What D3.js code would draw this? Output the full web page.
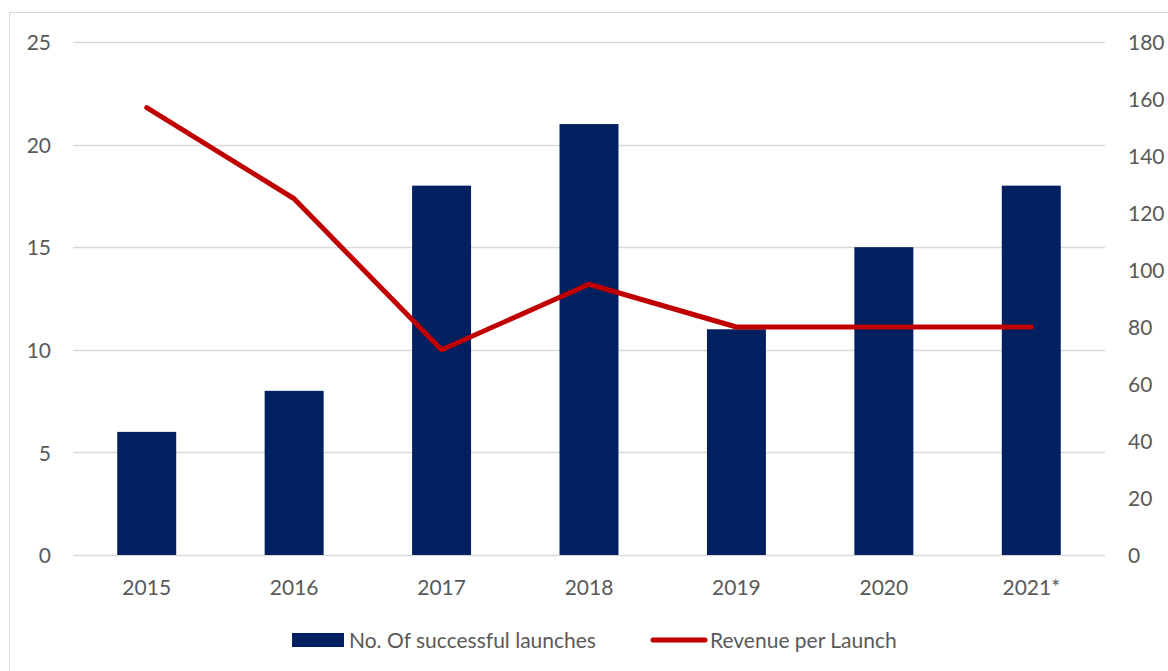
<!DOCTYPE html>
<html>
<head>
<meta charset="utf-8">
<script src="https://cdn.jsdelivr.net/npm/d3@7"></script>
<style>
  html, body { margin: 0; padding: 0; background: #fff; }
  svg { display: block; }
  text { font-family: Lato, "Open Sans", sans-serif; fill: #595959; }
</style>
</head>
<body>
<svg id="chart" width="1168" height="671"></svg>
<script>
// Launch counts (left axis) and revenue per launch (right axis)
const years = ["2015", "2016", "2017", "2018", "2019", "2020", "2021*"];
const launches = [6, 8, 18, 21, 11, 15, 18];
const revenuePerLaunch = [157, 125, 72, 95, 80, 80, 80];
const leftTicks = [0, 5, 10, 15, 20, 25];
const rightTicks = [0, 20, 40, 60, 80, 100, 120, 140, 160, 180];
const seriesNames = ["No. Of successful launches", "Revenue per Launch"];

const svg = d3.select("#chart");
const plot = { left: 73, right: 1105, top: 42, bottom: 555 };
const fontSize = "21px";

// outer frame of the chart area
svg.append("rect")
  .attr("x", 9.5).attr("y", 12.5)
  .attr("width", 1200).attr("height", 700)
  .attr("fill", "none").attr("stroke", "#d9d9d9").attr("stroke-width", 1);

const x = d3.scaleBand()
  .domain(years)
  .range([plot.left, plot.right])
  .paddingInner(0.6)
  .paddingOuter(0.3);

const yLeft = d3.scaleLinear().domain([0, 25]).range([plot.bottom, plot.top]);
const yRight = d3.scaleLinear().domain([0, 180]).range([plot.bottom, plot.top]);

// horizontal gridlines
svg.append("g")
  .selectAll("line")
  .data(leftTicks)
  .join("line")
  .attr("x1", plot.left).attr("x2", plot.right)
  .attr("y1", d => Math.round(yLeft(d)) + 0.5)
  .attr("y2", d => Math.round(yLeft(d)) + 0.5)
  .attr("stroke", "#d9d9d9").attr("stroke-width", 1.3);

// left axis
const leftAxis = svg.append("g")
  .attr("transform", `translate(${plot.left - 22},1)`)
  .call(d3.axisLeft(yLeft).tickValues(leftTicks).tickSize(0).tickPadding(0));
leftAxis.select(".domain").remove();
leftAxis.selectAll("text").style("font-size", fontSize).attr("fill", "#595959");

// right axis
const rightAxis = svg.append("g")
  .attr("transform", `translate(${plot.right + 23},1)`)
  .call(d3.axisRight(yRight).tickValues(rightTicks).tickSize(0).tickPadding(0));
rightAxis.select(".domain").remove();
rightAxis.selectAll("text").style("font-size", fontSize).attr("fill", "#595959");

// bottom category axis
const bottomAxis = svg.append("g")
  .attr("transform", `translate(0,${plot.bottom + 25})`)
  .call(d3.axisBottom(x).tickSize(0).tickPadding(0));
bottomAxis.select(".domain").remove();
bottomAxis.selectAll("text").style("font-size", fontSize).attr("fill", "#595959");

// bars
svg.append("g")
  .selectAll("rect")
  .data(launches)
  .join("rect")
  .attr("x", (d, i) => x(years[i]))
  .attr("width", x.bandwidth())
  .attr("y", d => yLeft(d))
  .attr("height", d => yLeft(0) - yLeft(d))
  .attr("fill", "#002060");

// revenue line
const line = d3.line()
  .x((d, i) => x(years[i]) + x.bandwidth() / 2)
  .y(d => yRight(d));

svg.append("path")
  .datum(revenuePerLaunch)
  .attr("d", line)
  .attr("fill", "none")
  .attr("stroke", "#c00000")
  .attr("stroke-width", 5)
  .attr("stroke-linejoin", "round")
  .attr("stroke-linecap", "round");

// legend
const legend = svg.append("g");
legend.append("rect")
  .attr("x", 292).attr("y", 633).attr("width", 52).attr("height", 14)
  .attr("fill", "#002060");
legend.append("text")
  .attr("x", 349).attr("y", 641).attr("dy", "0.35em")
  .style("font-size", fontSize)
  .text(seriesNames[0]);
legend.append("line")
  .attr("x1", 653).attr("x2", 705).attr("y1", 640).attr("y2", 640)
  .attr("stroke", "#c00000").attr("stroke-width", 5).attr("stroke-linecap", "round");
legend.append("text")
  .attr("x", 710).attr("y", 641).attr("dy", "0.35em")
  .style("font-size", fontSize)
  .text(seriesNames[1]);
</script>
</body>
</html>
